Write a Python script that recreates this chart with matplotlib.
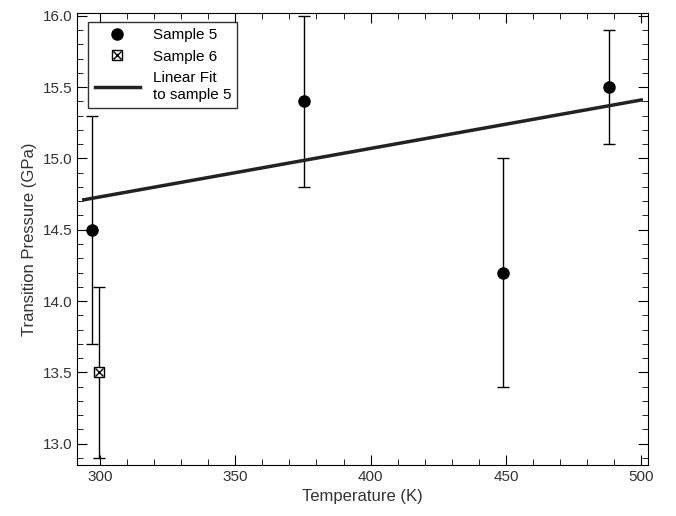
import matplotlib.pyplot as plt
from matplotlib.ticker import MultipleLocator
from matplotlib.lines import Line2D

plt.rcParams['font.family'] = ['Liberation Sans', 'DejaVu Sans']

# Sample 5
temp5 = [297, 375.5, 449, 488]
pres5 = [14.5, 15.4, 14.2, 15.5]
err5 = [0.8, 0.6, 0.8, 0.4]

# Sample 6
temp6 = [299.5]
pres6 = [13.5]
err6 = [0.6]

# linear fit endpoints
fit_t = [294, 500]
fit_p = [14.71, 15.41]

fig = plt.figure(figsize=(6.76, 5.16), dpi=100)
ax = fig.add_axes([77/676, 51/516, 571/676, 452/516])

ax.errorbar(temp5, pres5, yerr=err5, fmt='o', color='black', ms=8,
            capsize=4, elinewidth=1, capthick=1)
ax.errorbar(temp6, pres6, yerr=err6, fmt='s', mfc='white', mec='black', ecolor='black',
            ms=7, capsize=4, elinewidth=1, capthick=1)
ax.plot(temp6, pres6, marker='x', ls='none', color='black', ms=6, mew=1, zorder=5)
ax.plot(fit_t, fit_p, color='#222222', lw=2.5)

ax.set_xlim(291.5, 502.5)
ax.set_ylim(12.85, 16.02)
ax.xaxis.set_major_locator(MultipleLocator(50))
ax.xaxis.set_minor_locator(MultipleLocator(10))
ax.yaxis.set_major_locator(MultipleLocator(0.5))
ax.yaxis.set_minor_locator(MultipleLocator(0.1))
ax.tick_params(which='both', direction='in', top=True, right=True, labelsize=11, labelcolor='#333333')
ax.tick_params(which='major', length=7)
ax.tick_params(which='minor', length=4)
ax.yaxis.set_major_formatter(plt.FormatStrFormatter('%.1f'))

ax.set_xlabel('Temperature (K)', fontsize=12, color='#333333')
ax.set_ylabel('Transition Pressure (GPa)', fontsize=12, color='#333333')

h5 = Line2D([], [], marker='o', ls='none', color='black', ms=8)
h6 = (Line2D([], [], marker='s', ls='none', mfc='white', mec='black', ms=7),
      Line2D([], [], marker='x', ls='none', color='black', ms=6))
hf = Line2D([], [], color='#222222', lw=2.5)
leg = ax.legend([h5, h6, hf], ['Sample 5', 'Sample 6', 'Linear Fit\nto sample 5'],
                loc='upper left', bbox_to_anchor=(0.02, 0.98), fancybox=False,
                edgecolor='black', fontsize=11, borderaxespad=0, handlelength=3)
leg.get_frame().set_linewidth(1)

plt.savefig('out.png', dpi=100)
